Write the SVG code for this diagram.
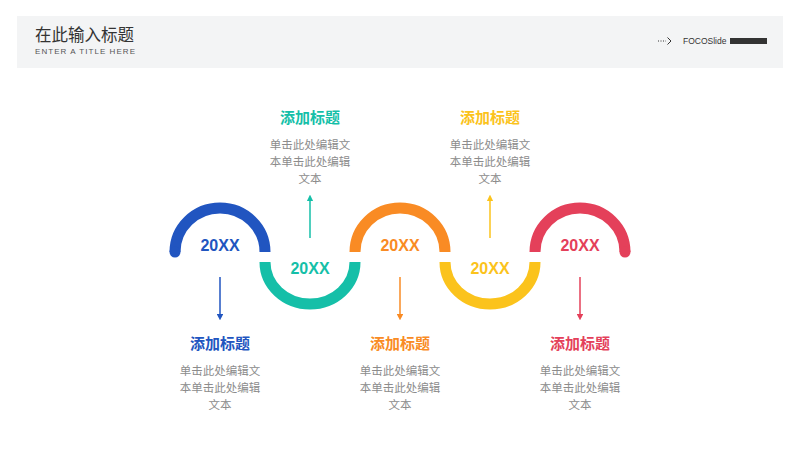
<svg xmlns="http://www.w3.org/2000/svg" width="800" height="450" viewBox="0 0 800 450">
<defs>
<style>
.cjk{font-family:"Noto Sans CJK SC","Noto Sans",sans-serif}
.yr{font-family:"Liberation Sans",Arial,sans-serif;font-weight:bold;font-size:16px;text-anchor:middle}
.ttl{font-family:"Noto Sans CJK SC",sans-serif;font-weight:bold;font-size:15px;text-anchor:middle}
.body{font-family:"Noto Sans CJK SC",sans-serif;font-size:11.5px;fill:#8c8c8c;text-anchor:middle}
.arc{fill:none;stroke-width:11;stroke-linecap:butt}
.conn{stroke-width:1.5;fill:none}
</style>
<marker id="ahB" viewBox="0 0 10 10" refX="5" refY="5" markerWidth="4.5" markerHeight="4.5" orient="auto"><path d="M0,0 L10,5 L0,10 Z" fill="#2155c0"/></marker>
<marker id="ahT" viewBox="0 0 10 10" refX="5" refY="5" markerWidth="4.5" markerHeight="4.5" orient="auto"><path d="M0,0 L10,5 L0,10 Z" fill="#15bfa8"/></marker>
<marker id="ahO" viewBox="0 0 10 10" refX="5" refY="5" markerWidth="4.5" markerHeight="4.5" orient="auto"><path d="M0,0 L10,5 L0,10 Z" fill="#f98b24"/></marker>
<marker id="ahY" viewBox="0 0 10 10" refX="5" refY="5" markerWidth="4.5" markerHeight="4.5" orient="auto"><path d="M0,0 L10,5 L0,10 Z" fill="#fbc31c"/></marker>
<marker id="ahR" viewBox="0 0 10 10" refX="5" refY="5" markerWidth="4.5" markerHeight="4.5" orient="auto"><path d="M0,0 L10,5 L0,10 Z" fill="#e4405a"/></marker>
</defs>
<rect width="800" height="450" fill="#ffffff"/>
<g id="header">
<rect x="17" y="16" width="766" height="52" fill="#f3f4f5"/>
<text x="35" y="40.5" class="cjk" font-size="16.5" fill="#333333">在此输入标题</text>
<text x="35" y="53.5" font-family="Liberation Sans,Arial,sans-serif" font-size="8" fill="#555555" textLength="100" lengthAdjust="spacing">ENTER A TITLE HERE</text>
<line x1="658" y1="41" x2="666" y2="41" stroke="#333" stroke-width="1" stroke-dasharray="1,1.5"/>
<path d="M667.5,37.5 L671,41 L667.5,44.5" fill="none" stroke="#333" stroke-width="1"/>
<text x="683" y="44" font-family="Liberation Sans,Arial,sans-serif" font-size="8.5" fill="#333333">FOCOSlide</text>
<rect x="730" y="38" width="37" height="6" fill="#333333"/>
</g>
<g id="connectors">
<line class="conn" x1="220" y1="277" x2="220" y2="317" stroke="#2155c0" marker-end="url(#ahB)"/>
<line class="conn" x1="310" y1="238" x2="310" y2="198" stroke="#15bfa8" marker-end="url(#ahT)"/>
<line class="conn" x1="400" y1="277" x2="400" y2="317" stroke="#f98b24" marker-end="url(#ahO)"/>
<line class="conn" x1="490" y1="238" x2="490" y2="198" stroke="#fbc31c" marker-end="url(#ahY)"/>
<line class="conn" x1="580" y1="277" x2="580" y2="317" stroke="#e4405a" marker-end="url(#ahR)"/>
</g>
<g id="node1">
<path class="arc" d="M175,252 A45 44 0 0 1 265,252" stroke="#2155c0"/>
<circle cx="175" cy="252" r="5.5" fill="#2155c0"/>
<text class="yr" x="220" y="251" fill="#2155c0">20XX</text>
<text class="ttl" x="220" y="349" fill="#2155c0">添加标题</text>
<text class="body" x="220" y="375">单击此处编辑文</text>
<text class="body" x="220" y="392">本单击此处编辑</text>
<text class="body" x="220" y="409">文本</text>
</g>
<g id="node2">
<path class="arc" d="M265,262 A45 42 0 0 0 355,262" stroke="#15bfa8"/>
<text class="yr" x="310" y="274" fill="#15bfa8">20XX</text>
<text class="ttl" x="310" y="123" fill="#15bfa8">添加标题</text>
<text class="body" x="310" y="149">单击此处编辑文</text>
<text class="body" x="310" y="166">本单击此处编辑</text>
<text class="body" x="310" y="183">文本</text>
</g>
<g id="node3">
<path class="arc" d="M355,252 A45 44 0 0 1 445,252" stroke="#f98b24"/>
<text class="yr" x="400" y="251" fill="#f98b24">20XX</text>
<text class="ttl" x="400" y="349" fill="#f98b24">添加标题</text>
<text class="body" x="400" y="375">单击此处编辑文</text>
<text class="body" x="400" y="392">本单击此处编辑</text>
<text class="body" x="400" y="409">文本</text>
</g>
<g id="node4">
<path class="arc" d="M445,262 A45 42 0 0 0 535,262" stroke="#fbc31c"/>
<text class="yr" x="490" y="274" fill="#fbc31c">20XX</text>
<text class="ttl" x="490" y="123" fill="#fbc31c">添加标题</text>
<text class="body" x="490" y="149">单击此处编辑文</text>
<text class="body" x="490" y="166">本单击此处编辑</text>
<text class="body" x="490" y="183">文本</text>
</g>
<g id="node5">
<path class="arc" d="M535,252 A45 44 0 0 1 625,252" stroke="#e4405a"/>
<circle cx="625" cy="252" r="5.5" fill="#e4405a"/>
<text class="yr" x="580" y="251" fill="#e4405a">20XX</text>
<text class="ttl" x="580" y="349" fill="#e4405a">添加标题</text>
<text class="body" x="580" y="375">单击此处编辑文</text>
<text class="body" x="580" y="392">本单击此处编辑</text>
<text class="body" x="580" y="409">文本</text>
</g>
</svg>
